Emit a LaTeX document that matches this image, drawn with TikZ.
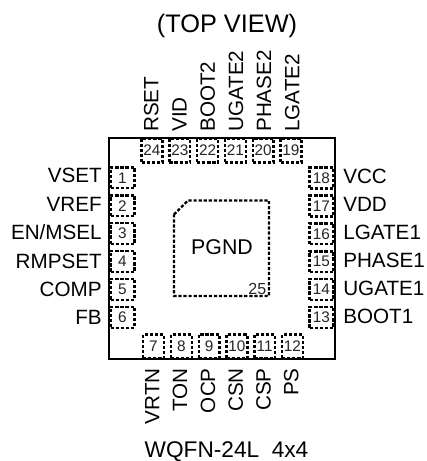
\documentclass[tikz,border=0pt]{standalone}
\usepackage{fontspec}
\setmainfont{Liberation Sans}
\begin{document}
\begin{tikzpicture}[x=0.75pt,y=-0.75pt,
  pinbox/.style={draw=black,line width=1.8pt,dash pattern=on 2.4pt off 1.4pt,inner sep=0pt,font=\fontsize{11.5pt}{12pt}\selectfont,text=black!85},
  sidepin/.style={pinbox,minimum width=18pt,minimum height=15.6pt},
  updownpin/.style={pinbox,minimum width=15.6pt,minimum height=18pt},
  lbl/.style={font=\fontsize{15.5pt}{17pt}\selectfont,inner sep=0pt,text height=11.1pt,text depth=0pt}]
\useasboundingbox (0,0) rectangle (427,461);
\path[fill=white] (0,0) rectangle (427,461);
\node[lbl,font=\fontsize{19pt}{21pt}\selectfont,text height=13.6pt] (title) at (227,23) {(TOP VIEW)};
\node[lbl,font=\fontsize{17pt}{19pt}\selectfont,text height=12.2pt] (pkgname) at (226.5,449.5) {WQFN-24L\ \ 4x4};
\draw[line width=1.1pt] (109,138) rectangle (335,359);
% left pins
\foreach \n/\t [count=\i from 0] in {1/VSET,2/VREF,3/EN\slash MSEL,4/RMPSET,5/COMP,6/FB}{
  \node[sidepin] (p\n) at (122.5,{177.8+27.9*\i}) {\n};
  \node[lbl,anchor=east] (t\n) at (102,{175.5+28.4*\i}) {\t};
}
% right pins
\foreach \n/\t [count=\i from 0] in {18/VCC,17/VDD,16/LGATE1,15/PHASE1,14/UGATE1,13/BOOT1}{
  \node[sidepin] (p\n) at (321.5,{178+27.9*\i}) {\n};
  \node[lbl,anchor=west] (t\n) at (343,{176+28.1*\i}) {\t};
}
% top pins
\foreach \n/\t [count=\i from 0] in {24/RSET,23/VID,22/BOOT2,21/UGATE2,20/PHASE2,19/LGATE2}{
  \node[updownpin] (p\n) at ({152+27.8*\i},150.5) {\n};
  \node[lbl,rotate=90,anchor=west] (t\n) at ({151+28.2*\i},132) {\t};
}
% bottom pins
\foreach \n/\t [count=\i from 0] in {7/VRTN,8/TON,9/OCP,10/CSN,11/CSP,12/PS}{
  \node[updownpin] (p\n) at ({153.5+27.8*\i},346.5) {\n};
  \node[lbl,rotate=90,anchor=east] (t\n) at ({152+27.8*\i},368) {\t};
}
% pad
\draw[line width=1.8pt,dash pattern=on 2.4pt off 1.4pt] (174,214.5) -- (188,200.5) -- (269,200.5) -- (269,296) -- (174,296) -- cycle;
\node[lbl,font=\fontsize{16pt}{18pt}\selectfont,text height=11.5pt] (pgnd) at (222,247) {PGND};
\node[inner sep=0pt,font=\fontsize{12pt}{13pt}\selectfont,text=black!85,anchor=east] (p25) at (266.5,289) {25};
\end{tikzpicture}
\end{document}
